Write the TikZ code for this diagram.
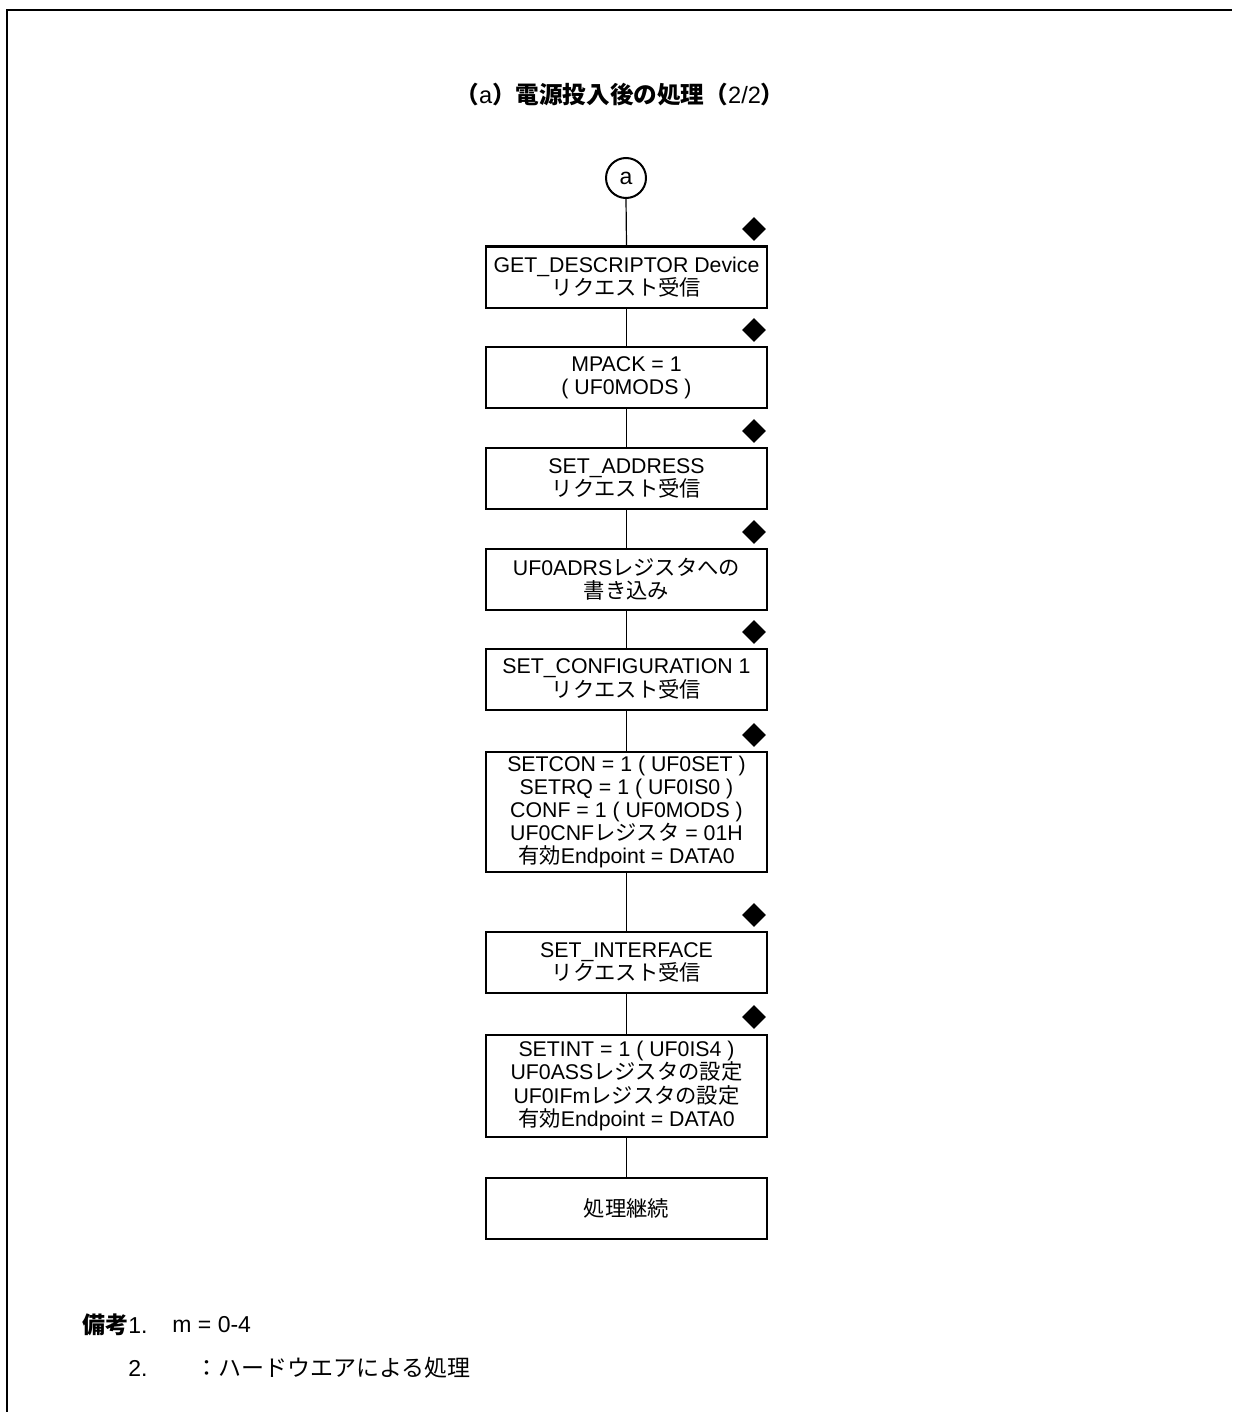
\documentclass[tikz,border=0pt]{standalone}
\usepackage{fontspec}
\setmainfont{Liberation Sans}
\newfontfamily\jp{Noto Sans CJK JP}
\usepackage{tikz}
\usetikzlibrary{shapes,positioning}

\newcommand{\ja}[1]{{\jp #1}}
\newcommand{\jb}[1]{{\jp\bfseries #1}}

\begin{document}
\begin{tikzpicture}[x=0.5pt, y=-0.5pt,
    flowbox/.style={rectangle, draw, line width=1pt, minimum width=140.5pt, minimum height=30.5pt, inner sep=2pt, align=center, font=\fontsize{10.65}{11.6}\selectfont},
    hwmark/.style={diamond, fill, draw=none, inner sep=0pt, minimum size=12pt},
    link/.style={line width=0.6pt},
    note/.style={anchor=west, inner sep=0pt, font=\fontsize{11.5}{13}\selectfont}
]
    \useasboundingbox (0,0) rectangle (1232,1412);
    \draw[line width=1pt] (7,1412) -- (7,10) -- (1232,10);

    \node[font=\fontsize{11.8}{13}\selectfont] (title) at (620,95) {\jb{（}a\jb{）電源投入後の処理（}2/2\jb{）}};

    \node[circle, draw, line width=1pt, minimum size=20pt, inner sep=0pt, font=\fontsize{11.5}{12}\selectfont] (start) at (626,178) {a};

    \node[flowbox] (getdesc) at (626.5,277) {GET\_DESCRIPTOR Device\\\ja{リクエスト受信}};
    \node[flowbox] (mpack) at (626.5,377.5) {MPACK = 1\\( UF0MODS )};
    \node[flowbox] (setaddr) at (626.5,478.5) {SET\_ADDRESS\\\ja{リクエスト受信}};
    \node[flowbox] (adrs) at (626.5,579) {UF0ADRS\ja{レジスタへの}\\\ja{書き込み}};
    \node[flowbox] (setconf) at (626.5,679) {SET\_CONFIGURATION 1\\\ja{リクエスト受信}};
    \node[flowbox, minimum height=60pt] (confset) at (626.5,812) {SETCON = 1 ( UF0SET )\\SETRQ = 1 ( UF0IS0 )\\CONF = 1 ( UF0MODS )\\UF0CNF\ja{レジスタ} = 01H\\\ja{有効}Endpoint = DATA0};
    \node[flowbox] (setif) at (626.5,962.5) {SET\_INTERFACE\\\ja{リクエスト受信}};
    \node[flowbox, minimum height=51pt] (ifset) at (626.5,1086) {SETINT = 1 ( UF0IS4 )\\UF0ASS\ja{レジスタの設定}\\UF0IFm\ja{レジスタの設定}\\\ja{有効}Endpoint = DATA0};
    \node[flowbox] (cont) at (626.5,1208.5) {\ja{処理継続}};

    % hardware marks
    \node[hwmark] (hw1) at (754,229) {};
    \node[hwmark] (hw2) at (754,330) {};
    \node[hwmark] (hw3) at (754,431) {};
    \node[hwmark] (hw4) at (754,532) {};
    \node[hwmark] (hw5) at (754,632) {};
    \node[hwmark] (hw6) at (754,735) {};
    \node[hwmark] (hw7) at (754,915) {};
    \node[hwmark] (hw8) at (754,1017) {};

    \draw[link] (start.south) -- (getdesc.north);
    \draw[link] (getdesc.south) -- (mpack.north);
    \draw[link] (mpack.south) -- (setaddr.north);
    \draw[link] (setaddr.south) -- (adrs.north);
    \draw[link] (adrs.south) -- (setconf.north);
    \draw[link] (setconf.south) -- (confset.north);
    \draw[link] (confset.south) -- (setif.north);
    \draw[link] (setif.south) -- (ifset.north);
    \draw[link] (ifset.south) -- (cont.north);

    \node[note] (rem1) at (82,1325) {\jb{備考}1.};
    \node[note] (rem1val) at (172,1325) {m = 0-4};
    \node[note] (rem2) at (128,1368) {2.};
    \node[note] (rem2val) at (195,1368) {\ja{：ハードウエアによる処理}};
\end{tikzpicture}
\end{document}
